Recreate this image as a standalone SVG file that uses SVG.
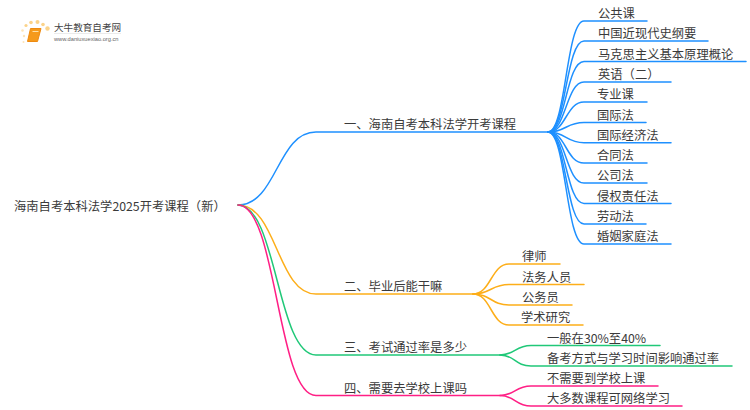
<svg xmlns="http://www.w3.org/2000/svg" width="750" height="410" viewBox="0 0 750 410">
<style>
text{font-family:"Noto Sans CJK SC","Noto Sans",sans-serif;font-size:12.3px;fill:#3a3a3a}
.c{fill:none;stroke-width:1.5;stroke-linecap:round}
.b{stroke:#1e90ff}.o{stroke:#fdae19}.g{stroke:#20c878}.p{stroke:#ff1f85}
</style>
<rect width="750" height="410" fill="#fff"/>
<g id="logo">
<circle cx="47.500" cy="28.500" r="2.200" fill="#fbd38a"/><circle cx="43" cy="24.500" r="1.800" fill="#fbd38a"/>
<circle cx="37.500" cy="22" r="2" fill="#fbd38a"/><circle cx="31" cy="22.500" r="1.800" fill="#fbd38a"/><circle cx="26" cy="25.500" r="1.600" fill="#fbd38a"/><circle cx="22.500" cy="30.500" r="1.300" fill="#fde4b8"/><circle cx="24" cy="36" r="1.200" fill="#fde4b8"/><circle cx="23.500" cy="42" r="1" fill="#fde4b8"/>
<path d="M30.500 28.500H41L37.500 41.500H27.500Z" fill="#f59a1b" stroke="#ee8a10" stroke-width="1" stroke-linejoin="round"/>
<path d="M32.500 31.500H38.500" stroke="#ffe2a6" stroke-width="1"/>
<text x="54" y="31" style="font-size:9.600px;fill:#444">大牛教育自考网</text>
<path d="M54 33.500H121" stroke="#ddd" stroke-width=".6"/>
<text x="54" y="41" style="font-size:5.700px;fill:#666;font-family:'Liberation Sans',sans-serif">www.daniuxuexiao.org.cn</text>
</g>
<g id="connectors">
<path class="c b" d="M238 205C277 205 277 132 316 132H548"/>
<path class="c o" d="M238 205C277 205 277 294 316 294H473"/>
<path class="c g" d="M238 205C277 205 277 355 316 355H500"/>
<path class="c p" d="M238 205C277 205 277 395.500 316 395.500H500"/>
<path class="c b" d="M548 132C566 132 566 21 584 21H647"/>
<path class="c b" d="M548 132C566 132 566 41 584 41H708"/>
<path class="c b" d="M548 132C566 132 566 61.500 584 61.500H746"/>
<path class="c b" d="M548 132C566 132 566 82 584 82H671"/>
<path class="c b" d="M548 132C566 132 566 102 584 102H647"/>
<path class="c b" d="M548 132C566 132 566 122.500 584 122.500H646"/>
<path class="c b" d="M548 132C566 132 566 142.700 584 142.700H671"/>
<path class="c b" d="M548 132C566 132 566 163 584 163H647"/>
<path class="c b" d="M548 132C566 132 566 183 584 183H647"/>
<path class="c b" d="M548 132C566 132 566 203.500 584 203.500H671"/>
<path class="c b" d="M548 132C566 132 566 224 584 224H646"/>
<path class="c b" d="M548 132C566 132 566 244 584 244H671"/>
<path class="c o" d="M473 294C491 294 491 264 509 264H560"/>
<path class="c o" d="M473 294C491 294 491 284.500 509 284.500H584"/>
<path class="c o" d="M473 294C491 294 491 305 509 305H572"/>
<path class="c o" d="M473 294C491 294 491 325 509 325H583"/>
<path class="c g" d="M500 355C515 355 515 345.500 531 345.500H660"/>
<path class="c g" d="M500 355C515 355 515 366 531 366H732"/>
<path class="c p" d="M500 395.500C515 395.500 515 386 531 386H658"/>
<path class="c p" d="M500 395.500C515 395.500 515 406 531 406H682"/>
</g>
<g id="root"><text x="14" y="210.500">海南自考本科法学2025开考课程（新）</text></g>
<g id="n1"><text x="344" y="129">一、海南自考本科法学开考课程</text></g>
<g id="n2"><text x="344" y="291">二、毕业后能干嘛</text></g>
<g id="n3"><text x="344" y="352">三、考试通过率是多少</text></g>
<g id="n4"><text x="344" y="393">四、需要去学校上课吗</text></g>
<g id="l1"><text x="598" y="18">公共课</text></g>
<g id="l2"><text x="598" y="38">中国近现代史纲要</text></g>
<g id="l3"><text x="598" y="58.500">马克思主义基本原理概论</text></g>
<g id="l4"><text x="598" y="79">英语（二）</text></g>
<g id="l5"><text x="597" y="99">专业课</text></g>
<g id="l6"><text x="597" y="119.500">国际法</text></g>
<g id="l7"><text x="597" y="139.700">国际经济法</text></g>
<g id="l8"><text x="597" y="160">合同法</text></g>
<g id="l9"><text x="597" y="180">公司法</text></g>
<g id="l10"><text x="597" y="200.500">侵权责任法</text></g>
<g id="l11"><text x="597" y="221">劳动法</text></g>
<g id="l12"><text x="597" y="241">婚姻家庭法</text></g>
<g id="o1"><text x="522" y="261">律师</text></g>
<g id="o2"><text x="522" y="281.500">法务人员</text></g>
<g id="o3"><text x="522" y="302">公务员</text></g>
<g id="o4"><text x="521" y="322">学术研究</text></g>
<g id="g1"><text x="547" y="342.500">一般在30%至40%</text></g>
<g id="g2"><text x="547" y="363">备考方式与学习时间影响通过率</text></g>
<g id="p1"><text x="547" y="383">不需要到学校上课</text></g>
<g id="p2"><text x="547" y="403">大多数课程可网络学习</text></g>
</svg>
